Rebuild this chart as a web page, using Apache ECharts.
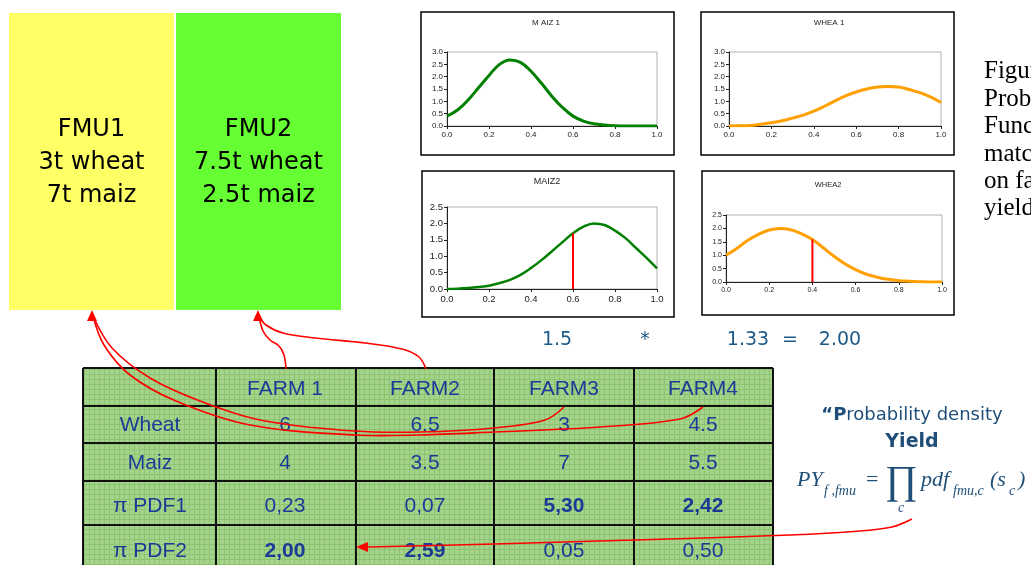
<!DOCTYPE html>
<html>
<head>
<meta charset="utf-8">
<script src="https://cdn.jsdelivr.net/npm/echarts@6/dist/echarts.min.js"></script>
<style>
  html, body { margin: 0; padding: 0; background: #fff; }
  #chart { width: 1031px; height: 565px; }
</style>
</head>
<body>
<div id="chart"></div>
<script>
// Yield share (x) at which each density is evaluated
const xs = [0.00, 0.05, 0.10, 0.15, 0.20, 0.25, 0.30, 0.35, 0.40, 0.45, 0.50,
            0.55, 0.60, 0.65, 0.70, 0.75, 0.80, 0.85, 0.90, 0.95, 1.00];

// Probability density curves per crop and FMU
const maiz1 = [0.40, 0.65, 1.05, 1.55, 2.05, 2.50, 2.68, 2.58, 2.22, 1.73, 1.20,
               0.75, 0.40, 0.20, 0.09, 0.04, 0.01, 0.00, 0.00, 0.00, 0.00];
const whea1 = [0.00, 0.01, 0.02, 0.07, 0.13, 0.21, 0.32, 0.44, 0.60, 0.80, 1.02,
               1.22, 1.38, 1.50, 1.58, 1.60, 1.58, 1.48, 1.35, 1.18, 0.95];
const maiz2 = [0.00, 0.01, 0.03, 0.06, 0.10, 0.18, 0.28, 0.43, 0.64, 0.88, 1.15,
               1.43, 1.70, 1.90, 2.00, 1.95, 1.78, 1.55, 1.25, 0.95, 0.63];
const whea2 = [1.00, 1.25, 1.55, 1.78, 1.94, 2.00, 1.95, 1.80, 1.59, 1.28, 0.96,
               0.68, 0.46, 0.29, 0.18, 0.10, 0.05, 0.03, 0.01, 0.00, 0.00];

// Evaluation points marked on the FMU2 curves
const maiz2Mark = 0.60;
const whea2Mark = 0.40;

const chartTitles = ['M AIZ 1', 'WHEA 1', 'MAIZ2', 'WHEA2'];

// FMU boxes
const fmuLines = [['FMU1', '3t wheat', '7t maiz'], ['FMU2', '7.5t wheat', '2.5t maiz']];

// Farm table
const farms = ['FARM 1', 'FARM2', 'FARM3', 'FARM4'];
const rowNames = ['Wheat', 'Maiz', 'π PDF1', 'π PDF2'];
const wheatRow = ['6', '6.5', '3', '4.5'];
const maizRow = ['4', '3.5', '7', '5.5'];
const pdf1Row = ['0,23', '0,07', '5,30', '2,42'];
const pdf2Row = ['2,00', '2,59', '0,05', '0,50'];
const pdf1Bold = [false, false, true, true];
const pdf2Bold = [true, true, false, false];

const productLine = ['1.5', '*', '1.33', '=', '2.00'];
const captionWords = ['Figure', 'Probability', 'Functions', 'matched', 'on farm', 'yields'];

const chart = echarts.init(document.getElementById('chart'), null, { renderer: 'canvas' });

// grid geometry for the four small density charts
const grids = [
  { left: 447, top: 52, width: 210, height: 74 },
  { left: 729, top: 52, width: 212, height: 74 },
  { left: 447, top: 207, width: 210, height: 82 },
  { left: 726, top: 215, width: 216, height: 67 }
];
const yMax = [3, 3, 2.5, 2.5];
const tickFont = [8, 8, 9.5, 7];

function pairs(vals) { return xs.map((x, i) => [x, vals[i]]); }
function valueAt(vals, x) {
  const i = xs.findIndex(v => Math.abs(v - x) < 1e-9);
  return vals[i];
}

const xAxes = grids.map((g, i) => ({
  type: 'value', gridIndex: i, min: 0, max: 1, interval: 0.2,
  axisLine: { show: true, lineStyle: { color: '#222', width: 1 } },
  axisTick: { show: true, length: 3, lineStyle: { color: '#222' } },
  splitLine: { show: false },
  axisLabel: { fontSize: tickFont[i], color: '#222', fontFamily: 'Liberation Sans', margin: 5,
               formatter: v => v.toFixed(1) }
}));
const yAxes = grids.map((g, i) => ({
  type: 'value', gridIndex: i, min: 0, max: yMax[i], interval: 0.5,
  axisLine: { show: true, lineStyle: { color: '#222', width: 1 } },
  axisTick: { show: true, length: 3, lineStyle: { color: '#222' } },
  splitLine: { show: false },
  axisLabel: { fontSize: tickFont[i], color: '#222', fontFamily: 'Liberation Sans', margin: 4,
               formatter: v => v.toFixed(1) }
}));

const green = '#008000';
const orange = '#ffa000';
function curve(idx, vals, color, w) {
  return {
    type: 'line', xAxisIndex: idx, yAxisIndex: idx, data: pairs(vals),
    smooth: 0.4, showSymbol: false, silent: true,
    lineStyle: { color: color, width: w }
  };
}
function marker(idx, vals, x) {
  return {
    type: 'line', xAxisIndex: idx, yAxisIndex: idx,
    data: [[x, 0], [x, valueAt(vals, x)]],
    showSymbol: false, silent: true, z: 3,
    lineStyle: { color: '#ff0000', width: 2 }
  };
}

// pattern for the table cells
const pc = document.createElement('canvas');
pc.width = 5; pc.height = 5;
const pctx = pc.getContext('2d');
pctx.fillStyle = '#a6d38b';
pctx.fillRect(0, 0, 5, 5);
pctx.fillStyle = '#8cc470';
pctx.fillRect(0, 4, 5, 1);
pctx.fillRect(4, 0, 1, 5);

const gfx = [];
function txt(x, y, text, font, fill, align, z, extra) {
  gfx.push(Object.assign({
    type: 'text', x: x, y: y, z: z || 10,
    style: { text: text, font: font, fill: fill,
             align: align || 'center', verticalAlign: 'middle',
             textAlign: align || 'center', textVerticalAlign: 'middle' }
  }, extra || {}));
}

// FMU boxes
const boxCols = ['#ffff66', '#66ff33'];
const boxX = [9, 176];
boxX.forEach((bx, i) => {
  gfx.push({ type: 'rect', z: 1, shape: { x: bx, y: 13, width: 165, height: 297 },
             style: { fill: boxCols[i] } });
  fmuLines[i].forEach((t, k) => txt(bx + 82.5, 130 + k * 33, t, '24px "DejaVu Sans"', '#000'));
});

// frames around the density charts
const frames = [[421, 12, 253, 143], [701, 12, 253, 143], [422, 171, 252, 146], [702, 171, 252, 144]];
frames.forEach(f => gfx.push({ type: 'rect', z: 1,
  shape: { x: f[0], y: f[1], width: f[2], height: f[3] },
  style: { fill: 'none', stroke: '#000', lineWidth: 1.5 } }));
const titlePos = [[546, 23, 8], [829, 23, 8], [547, 182, 9], [828, 185, 7.5]];
titlePos.forEach((p, i) => txt(p[0], p[1], chartTitles[i], p[2] + 'px "Liberation Sans"', '#222'));

// product of densities
const prodX = [557, 645, 748, 790, 840];
productLine.forEach((t, i) => txt(prodX[i], 340, t, '19px "DejaVu Sans"', '#1e5a87'));

// caption (runs off the right edge)
const capY = [71, 99, 126, 154, 181, 208];
captionWords.forEach((t, i) => txt(984, capY[i], t, '25px "Liberation Serif"', '#000', 'left'));

// table
const colEdges = [83, 216, 356, 494, 634, 773];
const rowEdges = [368, 406, 443, 481, 525, 575];
gfx.push({ type: 'rect', z: 2, shape: { x: 83, y: 368, width: 690, height: 207 },
           style: { fill: { image: pc, repeat: 'repeat' } } });
colEdges.forEach(x => gfx.push({ type: 'line', z: 3,
  shape: { x1: x, y1: 368, x2: x, y2: 575 }, style: { stroke: '#111', lineWidth: 2 } }));
rowEdges.forEach(y => gfx.push({ type: 'line', z: 3,
  shape: { x1: 83, y1: y, x2: 773, y2: y }, style: { stroke: '#111', lineWidth: 2 } }));
const colMid = [150, 285, 425, 564, 703];
const rowMid = [389, 425, 463, 506, 551];
const tblColor = '#1a3a98';
const tf = '21px "Liberation Sans"';
const tfb = 'bold 21px "Liberation Sans"';
farms.forEach((f, j) => txt(colMid[j + 1], rowMid[0], f, tf, tblColor, 'center', 4));
rowNames.forEach((r, i) => txt(colMid[0], rowMid[i + 1], r, tf, tblColor, 'center', 4));
[wheatRow, maizRow].forEach((row, i) =>
  row.forEach((v, j) => txt(colMid[j + 1], rowMid[i + 1], v, tf, tblColor, 'center', 4)));
pdf1Row.forEach((v, j) => txt(colMid[j + 1], rowMid[3], v, pdf1Bold[j] ? tfb : tf, tblColor, 'center', 4));
pdf2Row.forEach((v, j) => txt(colMid[j + 1], rowMid[4], v, pdf2Bold[j] ? tfb : tf, tblColor, 'center', 4));

// definition of the probability density yield
const defColor = '#1f4e79';
gfx.push({ type: 'text', x: 912, y: 415, z: 10,
  style: { text: '{b|“P}robability density', font: '18px "DejaVu Sans"', fill: defColor,
           align: 'center', verticalAlign: 'middle', textAlign: 'center', textVerticalAlign: 'middle',
           rich: { b: { fontWeight: 'bold', fontSize: 18, fontFamily: 'DejaVu Sans', fill: defColor, color: defColor } } } });
txt(912, 442, 'Yield', 'bold 19px "DejaVu Sans"', defColor);
const it = 'italic 22px "Liberation Serif"';
const its = 'italic 14px "Liberation Serif"';
txt(797, 480, 'PY', it, defColor, 'left');
txt(824, 491, 'f ,fmu', its, defColor, 'left');
txt(866, 480, '=', '22px "Liberation Serif"', defColor, 'left');
txt(885, 482, '∏', '40px "Liberation Serif"', defColor, 'left');
txt(901, 508, 'c', its, defColor, 'center');
txt(921, 480, 'pdf', it, defColor, 'left');
txt(953, 491, 'fmu,c', its, defColor, 'left');
txt(990, 480, '(s', it, defColor, 'left');
txt(1009, 491, 'c', its, defColor, 'left');
txt(1018, 480, ')', it, defColor, 'left');

// red connector arrows
function path(pts) {
  gfx.push({ type: 'polyline', z: 20, shape: { points: pts, smooth: 0.35 },
             style: { stroke: '#ff0000', lineWidth: 1.6, fill: null } });
}
function head(pts) {
  gfx.push({ type: 'polygon', z: 20, shape: { points: pts }, style: { fill: '#ff0000' } });
}
path([[286, 369], [284, 355], [279, 346], [270, 340], [263, 331], [259, 316]]);
path([[426, 369], [419, 357], [402, 349], [365, 343], [315, 338], [283, 333], [266, 325], [259, 316]]);
path([[564, 407], [545, 420], [494, 428], [420, 432], [355, 431], [260, 420], [200, 401], [150, 378], [112, 348], [93, 316]]);
path([[703, 407], [680, 419], [600, 427], [494, 432], [420, 435], [355, 435], [250, 425], [176, 401], [130, 375], [104, 345], [93, 316]]);
path([[912, 519], [892, 527], [860, 531], [790, 535], [634, 540], [494, 544], [368, 547]]);
head([[92, 310], [87, 321], [97, 321]]);
head([[258, 310], [253, 321], [263, 321]]);
head([[356, 547], [368, 542], [368, 552]]);

chart.setOption({
  animation: false,
  backgroundColor: '#ffffff',
  grid: grids.map(g => Object.assign({ show: true, backgroundColor: '#fff', borderColor: '#b0b0b0',
                                       borderWidth: 1, containLabel: false }, g)),
  xAxis: xAxes,
  yAxis: yAxes,
  series: [
    curve(0, maiz1, green, 3),
    curve(1, whea1, orange, 3),
    curve(2, maiz2, green, 2.5),
    curve(3, whea2, orange, 3),
    marker(2, maiz2, maiz2Mark),
    marker(3, whea2, whea2Mark)
  ],
  graphic: { elements: gfx }
});
</script>
</body>
</html>
